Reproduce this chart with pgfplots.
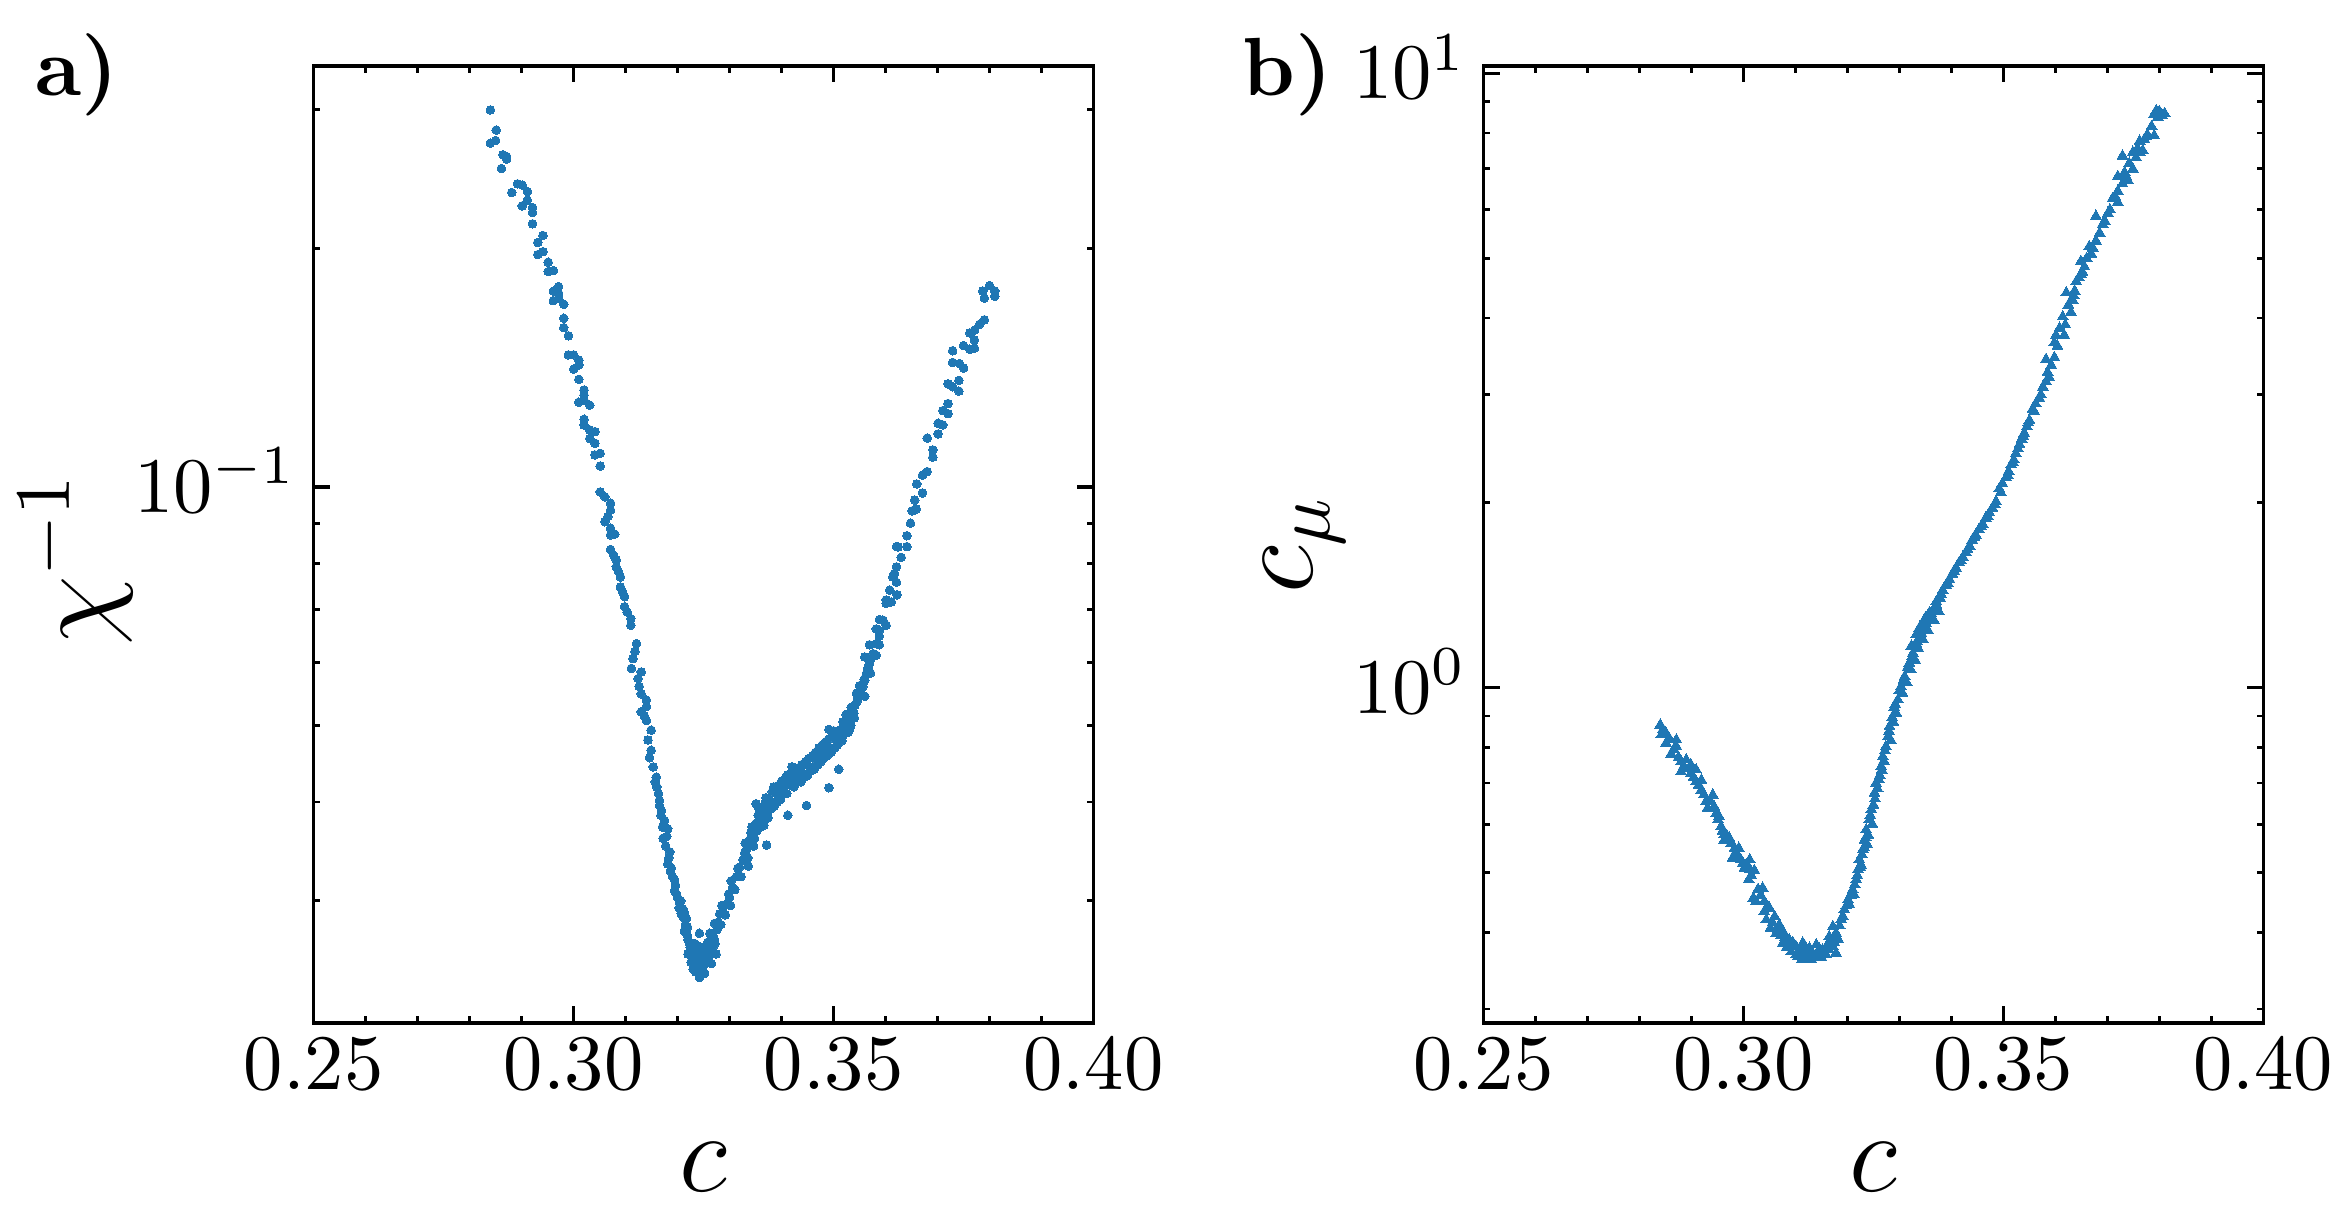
\documentclass[border=0pt]{standalone}
\usepackage{pgfplots}
\pgfplotsset{compat=1.18}
\definecolor{mplblue}{HTML}{1F77B4}
\pgfplotsset{
  myaxis/.style={
    scale only axis, width=99.2pt, height=121.7pt,
    xmin=0.25, xmax=0.40,
    xtick={0.25,0.30,0.35,0.40},
    xticklabels={$0.25$,$0.30$,$0.35$,$0.40$},
    minor x tick num=4,
    tick align=inside, tick pos=both,
    major tick length=2.1pt, minor tick length=0.85pt,
    axis line style={line width=0.45pt},
    major tick style={line width=0.4pt, black},
    minor tick style={line width=0.35pt, black},
    tick label style={font=\fontsize{10}{12}\selectfont},
    xticklabel style={inner sep=0pt, anchor=north, yshift=-1.8pt},
    yticklabel style={inner sep=0pt, anchor=base east, xshift=-1.9pt, yshift=-3.22pt},
    label style={font=\fontsize{14}{16}\selectfont},
    xlabel={$c$},
    xlabel style={at={(axis description cs:0.5,0)}, anchor=base, yshift=-21.5pt},
  }
}
\begin{document}
\begin{tikzpicture}
\begin{axis}[ymode=log, myaxis, name=A, at={(0pt,0pt)}, anchor=south west,
  ymin=0.02104, ymax=0.3404,
  ytick={0.1},
  minor ytick={0.03,0.04,0.05,0.06,0.07,0.08,0.09,0.2,0.3},
  ylabel={$\chi^{-1}$},
  ylabel style={at={(axis description cs:-0.2308,0.485)}, anchor=south, inner sep=0pt}]
\addplot[only marks, mark=*, mark size=0.55pt, color=mplblue, mark options={draw=mplblue, fill=mplblue, line width=0pt}] table {
0.2840 0.2996
0.2851 0.2825
0.2840 0.2720
0.2850 0.2741
0.2864 0.2629
0.2871 0.2616
0.2871 0.2596
0.2861 0.2526
0.2892 0.2416
0.2901 0.2407
0.2881 0.2356
0.2911 0.2362
0.2911 0.2304
0.2901 0.2266
0.2921 0.2255
0.2921 0.2223
0.2921 0.2151
0.2941 0.2079
0.2931 0.2037
0.2941 0.1984
0.2931 0.1967
0.2951 0.1924
0.2951 0.1872
0.2961 0.1877
0.2971 0.1792
0.2961 0.1768
0.2971 0.1758
0.2961 0.1720
0.2971 0.1733
0.2981 0.1702
0.2981 0.1634
0.2981 0.1590
0.2990 0.1553
0.2990 0.1469
0.3000 0.1469
0.3010 0.1447
0.3010 0.1427
0.3000 0.1409
0.3010 0.1368
0.3020 0.1326
0.3020 0.1307
0.3010 0.1280
0.3020 0.1288
0.3031 0.1269
0.3020 0.1218
0.3020 0.1198
0.3031 0.1181
0.3041 0.1175
0.3031 0.1152
0.3041 0.1136
0.3041 0.1098
0.3051 0.1103
0.3051 0.1063
0.3051 0.0986
0.3060 0.0972
0.3071 0.0954
0.3071 0.0935
0.3060 0.0904
0.3071 0.0887
0.3079 0.0872
0.3071 0.0870
0.3066 0.0918
0.3071 0.0834
0.3082 0.0809
0.3077 0.0820
0.3082 0.0793
0.3086 0.0782
0.3090 0.0770
0.3090 0.0748
0.3094 0.0737
0.3098 0.0727
0.3098 0.0706
0.3103 0.0695
0.3110 0.0682
0.3110 0.0669
0.3121 0.0634
0.3118 0.0620
0.3114 0.0607
0.3111 0.0590
0.3124 0.0573
0.3130 0.0584
0.3126 0.0560
0.3130 0.0548
0.3140 0.0538
0.3130 0.0520
0.3140 0.0528
0.3136 0.0514
0.3140 0.0507
0.3149 0.0493
0.3143 0.0479
0.3149 0.0465
0.3146 0.0455
0.3153 0.0443
0.3159 0.0430
0.3157 0.0424
0.3160 0.0418
0.3165 0.0402
0.3165 0.0396
0.3169 0.0390
0.3175 0.0379
0.3181 0.0370
0.3172 0.0360
0.3177 0.0352
0.3185 0.0346
0.3181 0.0334
0.3186 0.0327
0.3194 0.0319
0.3196 0.0314
0.3194 0.0309
0.3200 0.0303
0.3204 0.0298
0.3210 0.0293
0.3207 0.0289
0.3217 0.0285
0.3215 0.0280
0.3213 0.0275
0.3220 0.0268
0.3224 0.0262
0.3220 0.0257
0.3226 0.0251
0.3163 0.0410
0.3168 0.0385
0.3171 0.0372
0.3179 0.0362
0.3183 0.0340
0.3188 0.0330
0.3190 0.0322
0.3198 0.0306
0.3203 0.0294
0.3206 0.0300
0.3211 0.0286
0.3213 0.0290
0.3218 0.0272
0.3222 0.0266
0.3219 0.0278
0.3226 0.0259
0.3229 0.0262
0.3232 0.0251
0.3235 0.0244
0.3238 0.0253
0.3244 0.0247
0.3246 0.0262
0.3249 0.0255
0.3253 0.0250
0.3256 0.0259
0.3260 0.0255
0.3262 0.0264
0.3266 0.0258
0.3267 0.0272
0.3272 0.0265
0.3278 0.0282
0.3283 0.0280
0.3287 0.0290
0.3292 0.0288
0.3298 0.0306
0.3302 0.0296
0.3242 0.0273
0.3242 0.0243
0.3255 0.0252
0.3268 0.0262
0.3262 0.0273
0.3236 0.0257
0.3274 0.0257
0.3242 0.0240
0.3236 0.0250
0.3230 0.0246
0.3248 0.0248
0.3250 0.0260
0.3258 0.0266
0.3233 0.0265
0.3245 0.0255
0.3265 0.0250
0.3228 0.0255
0.3252 0.0243
0.3240 0.0263
0.3270 0.0269
0.3271 0.0281
0.3276 0.0276
0.3281 0.0289
0.3285 0.0296
0.3290 0.0296
0.3296 0.0298
0.3300 0.0303
0.3303 0.0318
0.3306 0.0312
0.3310 0.0310
0.3313 0.0322
0.3316 0.0330
0.3319 0.0331
0.3322 0.0322
0.3326 0.0338
0.3329 0.0345
0.3332 0.0348
0.3335 0.0340
0.3338 0.0358
0.3341 0.0366
0.3345 0.0369
0.3348 0.0360
0.3351 0.0376
0.3351 0.0398
0.3355 0.0385
0.3360 0.0372
0.3364 0.0383
0.3368 0.0398
0.3371 0.0390
0.3371 0.0353
0.3374 0.0382
0.3377 0.0402
0.3382 0.0412
0.3386 0.0395
0.3390 0.0410
0.3395 0.0420
0.3398 0.0403
0.3403 0.0418
0.3408 0.0430
0.3410 0.0410
0.3412 0.0385
0.3415 0.0426
0.3420 0.0436
0.3420 0.0443
0.3424 0.0418
0.3428 0.0430
0.3433 0.0442
0.3437 0.0424
0.3441 0.0435
0.3446 0.0450
0.3448 0.0396
0.3450 0.0432
0.3454 0.0443
0.3460 0.0458
0.3463 0.0440
0.3467 0.0452
0.3472 0.0468
0.3476 0.0450
0.3479 0.0461
0.3484 0.0476
0.3488 0.0458
0.3491 0.0494
0.3491 0.0417
0.3492 0.0469
0.3498 0.0486
0.3502 0.0468
0.3505 0.0479
0.3510 0.0440
0.3512 0.0488
0.3516 0.0478
0.3520 0.0502
0.3524 0.0498
0.3528 0.0490
0.3531 0.0507
0.3534 0.0512
0.3537 0.0522
0.3541 0.0530
0.3547 0.0543
0.3550 0.0548
0.3556 0.0559
0.3559 0.0572
0.3563 0.0581
0.3566 0.0590
0.3569 0.0598
0.3572 0.0607
0.3576 0.0616
0.3582 0.0634
0.3588 0.0659
0.3595 0.0679
0.3601 0.0713
0.3608 0.0741
0.3614 0.0770
0.3621 0.0793
0.3624 0.0840
0.3330 0.0355
0.3336 0.0332
0.3343 0.0372
0.3346 0.0352
0.3353 0.0368
0.3357 0.0392
0.3362 0.0380
0.3366 0.0374
0.3370 0.0405
0.3379 0.0392
0.3385 0.0418
0.3392 0.0400
0.3400 0.0425
0.3405 0.0412
0.3412 0.0433
0.3418 0.0420
0.3426 0.0440
0.3431 0.0428
0.3439 0.0446
0.3444 0.0430
0.3452 0.0454
0.3457 0.0438
0.3465 0.0462
0.3470 0.0446
0.3478 0.0472
0.3482 0.0455
0.3490 0.0480
0.3495 0.0462
0.3500 0.0492
0.3507 0.0472
0.3514 0.0494
0.3518 0.0485
0.3526 0.0505
0.3533 0.0500
0.3539 0.0518
0.3545 0.0536
0.3552 0.0553
0.3557 0.0565
0.3787 0.1769
0.3810 0.1769
0.3800 0.1797
0.3790 0.1733
0.3810 0.1742
0.3790 0.1627
0.3781 0.1606
0.3762 0.1566
0.3771 0.1578
0.3771 0.1534
0.3762 0.1493
0.3771 0.1498
0.3750 0.1509
0.3729 0.1487
0.3729 0.1437
0.3742 0.1432
0.3750 0.1414
0.3720 0.1350
0.3729 0.1339
0.3741 0.1364
0.3741 0.1322
0.3720 0.1275
0.3710 0.1249
0.3720 0.1238
0.3701 0.1204
0.3710 0.1198
0.3701 0.1167
0.3680 0.1153
0.3691 0.1114
0.3691 0.1091
0.3680 0.1046
0.3671 0.1035
0.3660 0.1009
0.3671 0.0983
0.3656 0.0963
0.3651 0.0933
0.3659 0.0938
0.3648 0.0900
0.3641 0.0868
0.3641 0.0841
0.3621 0.0841
0.3630 0.0815
0.3617 0.0778
0.3621 0.0758
0.3601 0.0720
0.3611 0.0716
0.3622 0.0731
0.3588 0.0680
0.3601 0.0669
0.3582 0.0662
0.3588 0.0648
0.3569 0.0632
0.3588 0.0632
0.3560 0.0610
0.3582 0.0613
0.3566 0.0591
0.3571 0.0582
0.3560 0.0570
0.3550 0.0561
0.3560 0.0544
0.3544 0.0549
0.3534 0.0527
0.3524 0.0516
0.3540 0.0511
0.3518 0.0505
0.3531 0.0495
0.3512 0.0485
0.3524 0.0490
};
\end{axis}
\begin{axis}[ymode=log, myaxis, name=B, at={(148.8pt,0pt)}, anchor=south west,
  ymin=0.285, ymax=10.28,
  ytick={1,10},
  minor ytick={0.3,0.4,0.5,0.6,0.7,0.8,0.9,2,3,4,5,6,7,8,9},
  ylabel={$c_\mu$},
  ylabel style={at={(axis description cs:-0.1756,0.5)}, anchor=south, inner sep=0pt}]
\addplot[only marks, mark=triangle*, mark size=0.8pt, color=mplblue, mark options={draw=mplblue, fill=mplblue, line width=0pt}] table {
0.2840 0.8704
0.2842 0.8386
0.2851 0.8440
0.2851 0.8128
0.2871 0.8231
0.2871 0.8026
0.2861 0.7808
0.2880 0.7587
0.2890 0.7636
0.2899 0.7494
0.2880 0.7307
0.2909 0.7355
0.2899 0.7265
0.2909 0.7036
0.2919 0.7080
0.2919 0.6823
0.2941 0.6696
0.2928 0.6531
0.2931 0.6372
0.2948 0.6254
0.2951 0.6099
0.2957 0.5946
0.2963 0.5765
0.2973 0.5693
0.2963 0.5656
0.2983 0.5484
0.2991 0.5484
0.2979 0.5284
0.2987 0.5330
0.2999 0.5187
0.3012 0.5252
0.3012 0.5072
0.3002 0.5091
0.3010 0.4872
0.3021 0.5045
0.3019 0.4548
0.3037 0.4722
0.3024 0.4491
0.3040 0.4491
0.3040 0.4326
0.3050 0.4381
0.3044 0.4194
0.3060 0.4245
0.3052 0.4065
0.3069 0.4115
0.3063 0.3989
0.3076 0.4014
0.2845 0.8550
0.2858 0.8250
0.2866 0.7950
0.2875 0.7700
0.2885 0.7450
0.2895 0.7400
0.2904 0.7150
0.2914 0.6950
0.2924 0.6700
0.2936 0.6550
0.2944 0.6400
0.2953 0.6180
0.2960 0.5850
0.2968 0.5750
0.2976 0.5580
0.2985 0.5400
0.2995 0.5250
0.3005 0.5150
0.3015 0.4950
0.3028 0.4700
0.3033 0.4600
0.3047 0.4400
0.3056 0.4150
0.3066 0.4050
0.3072 0.3950
0.3080 0.3920
0.3076 0.3844
0.3083 0.3780
0.3088 0.3890
0.3095 0.3850
0.3101 0.3794
0.3108 0.3720
0.3114 0.3844
0.3118 0.3800
0.3127 0.3772
0.3133 0.3700
0.3140 0.3819
0.3146 0.3760
0.3152 0.3748
0.3160 0.3800
0.3101 0.3678
0.3112 0.3610
0.3121 0.3655
0.3130 0.3620
0.3140 0.3664
0.3150 0.3640
0.3159 0.3678
0.3168 0.3870
0.3172 0.3794
0.3178 0.3701
0.3165 0.3938
0.3172 0.4089
0.3092 0.3720
0.3105 0.3660
0.3116 0.3720
0.3124 0.3680
0.3137 0.3640
0.3144 0.3710
0.3156 0.3700
0.3163 0.3750
0.3175 0.3850
0.3178 0.3989
0.3185 0.4100
0.3188 0.4194
0.3194 0.4353
0.3198 0.4420
0.3201 0.4519
0.3206 0.4600
0.3210 0.4692
0.3214 0.4780
0.3217 0.4872
0.3220 0.5057
0.3226 0.5150
0.3223 0.5252
0.3228 0.5350
0.3230 0.5452
0.3238 0.5560
0.3233 0.5656
0.3240 0.5760
0.3236 0.5875
0.3248 0.6000
0.3242 0.6099
0.3246 0.6333
0.3250 0.6450
0.3252 0.6741
0.3258 0.6850
0.3255 0.6998
0.3262 0.7200
0.3265 0.7447
0.3270 0.7600
0.3268 0.7730
0.3274 0.8026
0.3284 0.8200
0.3278 0.8333
0.3281 0.8654
0.3288 0.8800
0.3294 0.9095
0.3290 0.9300
0.3297 0.9561
0.3306 0.9800
0.3303 1.0048
0.3314 1.0200
0.3310 1.0433
0.3322 1.0700
0.3319 1.0970
0.3330 1.1100
0.3326 1.1387
0.3336 1.1600
0.3323 1.1700
0.3332 1.1821
0.3345 1.2000
0.3332 1.2200
0.3342 1.2274
0.3355 1.2400
0.3338 1.2500
0.3351 1.2740
0.3345 1.2720
0.3366 1.2900
0.3350 1.3000
0.3361 1.3227
0.3358 1.3260
0.3376 1.3300
0.3364 1.3300
0.3371 1.3646
0.3371 1.3820
0.3378 1.4000
0.3383 1.4410
0.3390 1.4700
0.3396 1.5020
0.3402 1.5300
0.3409 1.5660
0.3415 1.6000
0.3422 1.6320
0.3428 1.6600
0.3435 1.7010
0.3440 1.7400
0.3447 1.7730
0.3453 1.8100
0.3460 1.8480
0.3466 1.8900
0.3473 1.9270
0.3479 1.9600
0.3486 2.0090
0.3492 2.1090
0.3498 2.1500
0.3505 2.1980
0.3510 2.2500
0.3515 2.3070
0.3520 2.3500
0.3524 2.4060
0.3531 2.4900
0.3535 2.5400
0.3540 2.5970
0.3545 2.6600
0.3550 2.7250
0.3556 2.8400
0.3562 2.9000
0.3569 2.9610
0.3576 3.0870
0.3582 3.1520
0.3585 3.2630
0.3592 3.3500
0.3582 3.4250
0.3598 3.4490
0.3598 3.6460
0.3601 3.7490
0.3617 3.7490
0.3608 3.8500
0.3614 4.0180
0.3630 4.0860
0.3625 4.2000
0.3633 4.2760
0.3621 4.3960
0.3637 4.4260
0.3640 4.5830
0.3645 4.6500
0.3649 4.7120
0.3656 4.8440
0.3649 4.9450
0.3660 5.0000
0.3669 5.0840
0.3665 5.2270
0.3678 5.3380
0.3685 5.5000
0.3691 5.6810
0.3678 5.8570
0.3701 5.9210
0.3705 6.0000
0.3720 6.1720
0.3710 6.2580
0.3720 6.4340
0.3729 6.6150
0.3739 6.7070
0.3720 6.8000
0.3733 6.9000
0.3749 6.9910
0.3742 7.1410
0.3755 7.3000
0.3729 7.3410
0.3768 7.4930
0.3762 7.4430
0.3749 7.4430
0.3771 7.8120
0.3762 7.7600
0.3790 7.9210
0.3778 7.9210
0.3785 8.2000
0.3797 8.4900
0.3805 8.5500
0.3810 8.6080
0.3800 8.6700
0.3790 8.5850
0.3794 8.7000
0.3182 0.3900
0.3191 0.4250
0.3203 0.4450
0.3212 0.4620
0.3219 0.4950
0.3225 0.5100
0.3232 0.5500
0.3235 0.5700
0.3244 0.6200
0.3253 0.6600
0.3260 0.7100
0.3266 0.7350
0.3272 0.7900
0.3280 0.8500
0.3286 0.8950
0.3292 0.9400
0.3300 0.9900
0.3308 1.0300
0.3316 1.0800
0.3325 1.1250
0.3334 1.1900
0.3340 1.2100
0.3348 1.2600
0.3357 1.3000
0.3368 1.3500
0.3380 1.4200
0.3393 1.4800
0.3405 1.5500
0.3418 1.6100
0.3431 1.6800
0.3444 1.7600
0.3457 1.8300
0.3470 1.9000
0.3483 1.9900
0.3495 2.0800
0.3508 2.2200
0.3518 2.3300
0.3528 2.4500
0.3538 2.5700
0.3548 2.7000
0.3559 2.8200
0.3572 3.0000
0.3588 3.2000
0.3604 3.6000
0.3619 3.9000
0.3635 4.3500
0.3652 4.7500
0.3672 5.2000
0.3695 5.7500
0.3715 6.3000
0.3736 6.8000
0.3758 7.5500
0.3775 7.9000
};
\end{axis}
\node[anchor=base west, inner sep=0pt, font=\bfseries\fontsize{10.5}{12}\selectfont] at ([xshift=-35.6pt, yshift=117.9pt]A.south west) {a)};
\node[anchor=base west, inner sep=0pt, font=\bfseries\fontsize{10.5}{12}\selectfont] at ([xshift=-30.8pt, yshift=117.9pt]B.south west) {b)};
\pgfresetboundingbox
\path (-39.9pt,-24.7pt) rectangle (258.0pt,130.1pt);
\end{tikzpicture}
\end{document}
